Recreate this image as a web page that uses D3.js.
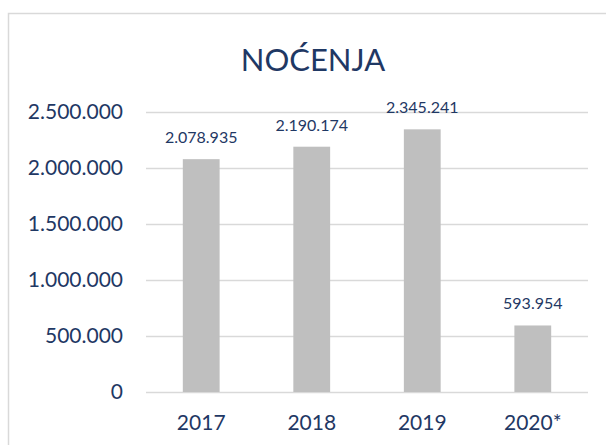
<!DOCTYPE html>
<html>
<head>
<meta charset="utf-8">
<script src="https://cdn.jsdelivr.net/npm/d3@7"></script>
<style>
  body { margin: 0; background: #fff; }
  text { font-family: Lato, "Open Sans", sans-serif; fill: #1F3864; }
</style>
</head>
<body>
<div id="chart"></div>
<script>
// data
const years = ["2017", "2018", "2019", "2020*"];
const nocenja = [2078935, 2190174, 2345241, 593954];
const yTicks = [0, 500000, 1000000, 1500000, 2000000, 2500000];

const w = 606;
const h = 445;

// dotted thousands like "2.500.000"
const fmt = d3.formatLocale({decimal: ",", thousands: ".", grouping: [3], currency: ["", ""]}).format(",d");

const svg = d3.select("#chart").append("svg")
    .attr("width", w)
    .attr("height", h);

// chart area frame (runs off right and bottom edge)
svg.append("rect")
    .attr("x", 8.5).attr("y", 13.5)
    .attr("width", 620).attr("height", 460)
    .attr("fill", "#fff")
    .attr("stroke", "#D9D9D9")
    .attr("stroke-width", 1.5);

svg.append("text")
    .attr("x", 313).attr("y", 71)
    .attr("text-anchor", "middle")
    .style("font-size", "31px")
    .text("NOĆENJA");

let x = d3.scaleBand()
    .domain(years)
    .range([146, 588])
    .paddingInner(0.667)
    .paddingOuter(0.333);

let y = d3.scaleLinear()
    .domain([0, 2500000])
    .range([392, 112]);

// gridlines + y labels
const yAxis = svg.append("g")
    .attr("transform", "translate(146,0)")
    .call(d3.axisLeft(y).tickValues(yTicks).tickFormat(fmt).tickSize(-442).tickPadding(23));
yAxis.select(".domain").remove();
yAxis.selectAll("line").attr("stroke", "#D9D9D9").attr("stroke-width", 1.5);
yAxis.selectAll("text").style("font-size", "21px").attr("fill", "#1F3864");

// bars
svg.selectAll("rect.bar")
    .data(nocenja)
    .enter()
    .append("rect")
    .attr("class", "bar")
    .attr("x", (d, i) => x(years[i]))
    .attr("y", d => y(d))
    .attr("width", x.bandwidth())
    .attr("height", d => y(0) - y(d))
    .attr("fill", "#BFBFBF");

// value labels
svg.selectAll("text.val")
    .data(nocenja)
    .enter()
    .append("text")
    .attr("class", "val")
    .attr("x", (d, i) => x(years[i]) + x.bandwidth() / 2)
    .attr("y", d => y(d) - 16)
    .attr("text-anchor", "middle")
    .style("font-size", "16px")
    .text(d => fmt(d));

// x labels
const xAxis = svg.append("g")
    .attr("transform", "translate(0,392)")
    .call(d3.axisBottom(x).tickSize(0).tickPadding(23));
xAxis.select(".domain").remove();
xAxis.selectAll("text").style("font-size", "21px").attr("fill", "#1F3864");
</script>
</body>
</html>
